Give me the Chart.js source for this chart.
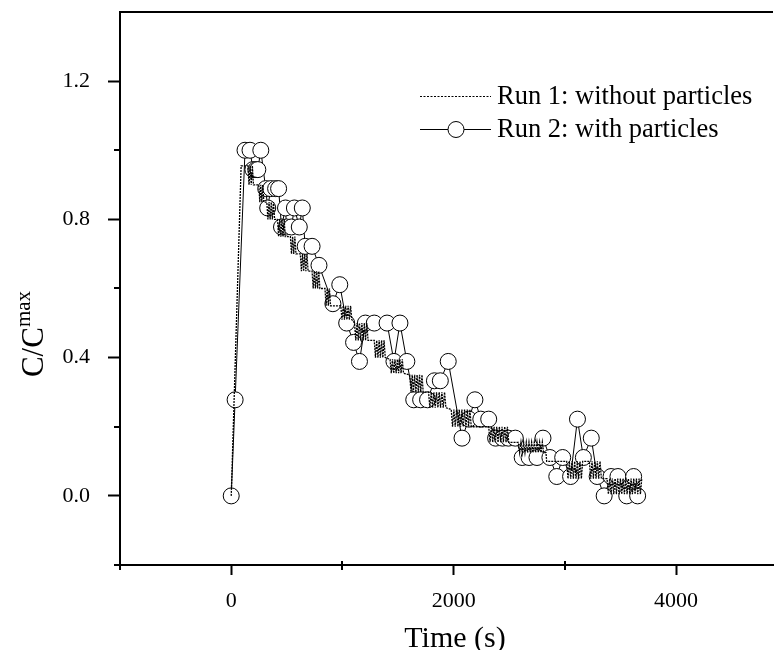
<!DOCTYPE html>
<html>
<head>
<meta charset="utf-8">
<script src="https://cdn.jsdelivr.net/npm/chart.js@4.4.1/dist/chart.umd.min.js"></script>
<style>
  html, body { margin: 0; padding: 0; background: #fff; overflow: hidden; }
  #myChart { display: block; }
</style>
</head>
<body>
<canvas id="myChart" width="782" height="650"></canvas>
<script>
// Run 1: without particles (dotted staircase, dense sampling)
var run1Time = [
    0, 89,
    150, 160, 170, 180, 190, 200,
    248, 257, 266, 275, 284, 293,
    320, 330, 340, 350, 360, 370, 380, 390,
    416, 426, 436, 446, 456, 466, 476, 486,
    532, 542, 552, 562, 572, 582,
    621, 631, 641, 651, 661, 671, 681, 691,
    727, 737, 747, 757, 767, 777, 787, 797,
    843, 853, 863, 873, 883, 893,
    985, 996, 1007, 1018, 1029, 1040, 1051, 1062, 1073, 1084,
    1109, 1120, 1131, 1142, 1153, 1164, 1175, 1186, 1197, 1208, 1219, 1230,
    1286, 1297, 1308, 1319, 1330, 1341, 1352, 1363, 1374, 1385,
    1428, 1439, 1450, 1461, 1472, 1483, 1494, 1505, 1516, 1527, 1538, 1549,
    1605, 1616, 1627, 1638, 1649, 1660, 1671, 1682, 1693, 1704, 1715, 1726,
    1774, 1786, 1798, 1810, 1822, 1834, 1846, 1858, 1870, 1882, 1894, 1906, 1918, 1930,
    1978, 1990, 2002, 2014, 2026, 2038, 2050, 2062, 2074, 2086, 2098, 2110, 2122, 2134, 2146, 2158,
    2315, 2327, 2339, 2351, 2363, 2375, 2387, 2399, 2411, 2423, 2435, 2447, 2459, 2471, 2483, 2495,
    2581, 2593, 2605, 2617, 2629, 2641, 2653, 2665, 2677, 2689, 2701, 2713, 2725, 2737, 2749, 2761, 2773, 2785, 2797, 2809,
    2830, 2836,
    3016, 3028, 3040, 3052, 3064, 3076, 3088, 3100, 3112, 3124, 3136, 3148, 3160,
    3220, 3232, 3244, 3256, 3268, 3280, 3292, 3304, 3316, 3328,
    3379, 3391, 3403, 3415, 3427, 3439, 3451, 3463, 3475, 3487, 3499, 3511, 3523, 3535,
    3547, 3559, 3571, 3583, 3595, 3607, 3619, 3631, 3643, 3655, 3667, 3679, 3691
];
var run1Value = [
    0, 0.955,
    0.955, 0.90, 0.955, 0.90, 0.955, 0.90,
    0.90, 0.85, 0.90, 0.85, 0.90, 0.85,
    0.85, 0.80, 0.85, 0.80, 0.85, 0.80, 0.85, 0.80,
    0.80, 0.75, 0.80, 0.75, 0.80, 0.75, 0.80, 0.75,
    0.75, 0.70, 0.75, 0.70, 0.75, 0.70,
    0.70, 0.65, 0.70, 0.65, 0.70, 0.65, 0.70, 0.65,
    0.65, 0.60, 0.65, 0.60, 0.65, 0.60, 0.65, 0.60,
    0.60, 0.55, 0.60, 0.55, 0.60, 0.55,
    0.55, 0.51, 0.55, 0.51, 0.55, 0.51, 0.55, 0.51, 0.55, 0.51,
    0.50, 0.45, 0.50, 0.45, 0.50, 0.45, 0.50, 0.45, 0.50, 0.45, 0.50, 0.45,
    0.45, 0.40, 0.45, 0.40, 0.45, 0.40, 0.45, 0.40, 0.45, 0.40,
    0.395, 0.355, 0.395, 0.355, 0.395, 0.355, 0.395, 0.355, 0.395, 0.355, 0.395, 0.355,
    0.35, 0.30, 0.35, 0.30, 0.35, 0.30, 0.35, 0.30, 0.35, 0.30, 0.35, 0.30,
    0.30, 0.255, 0.30, 0.255, 0.30, 0.255, 0.30, 0.255, 0.30, 0.255, 0.30, 0.255, 0.30, 0.255,
    0.25, 0.20, 0.25, 0.20, 0.25, 0.20, 0.25, 0.20, 0.25, 0.20, 0.25, 0.20, 0.25, 0.20, 0.25, 0.20,
    0.20, 0.155, 0.20, 0.155, 0.20, 0.155, 0.20, 0.155, 0.20, 0.155, 0.20, 0.155, 0.20, 0.155, 0.20, 0.155,
    0.155, 0.125, 0.155, 0.125, 0.155, 0.125, 0.155, 0.125, 0.155, 0.125, 0.155, 0.125, 0.155, 0.125, 0.155, 0.125, 0.155, 0.125, 0.155, 0.125,
    0.125, 0.10,
    0.10, 0.05, 0.10, 0.05, 0.10, 0.05, 0.10, 0.05, 0.10, 0.05, 0.10, 0.05, 0.10,
    0.10, 0.05, 0.10, 0.05, 0.10, 0.05, 0.10, 0.05, 0.10, 0.05,
    0.05, 0.005, 0.05, 0.005, 0.05, 0.005, 0.05, 0.005, 0.05, 0.005, 0.05, 0.005, 0.05, 0.005,
    0.05, 0.005, 0.05, 0.005, 0.05, 0.005, 0.05, 0.005, 0.05, 0.005, 0.05, 0.005, 0.05
];

// Run 2: with particles (open circles)
var run2Time = [
    0, 35, 124, 169, 195, 222, 239, 266, 310, 328, 355, 399, 426, 452, 488, 497, 541, 568, 612, 639,
    665, 727, 789, 914, 976, 1038, 1100, 1153, 1206, 1286, 1401, 1463, 1517, 1579, 1641, 1703, 1765, 1827, 1880, 1951,
    2075, 2137, 2191, 2244, 2315, 2377, 2439, 2492, 2554, 2616, 2678, 2749, 2803, 2865, 2927, 2980, 3051, 3113, 3166, 3237,
    3290, 3353, 3415, 3477, 3556, 3618, 3654
];
var run2Value = [
    0, 0.278, 1.0, 1.0, 0.944, 0.944, 0.944, 1.0, 0.889, 0.833, 0.889, 0.889, 0.889, 0.778, 0.833, 0.778, 0.778, 0.833, 0.778, 0.833,
    0.722, 0.722, 0.667, 0.556, 0.611, 0.5, 0.444, 0.389, 0.5, 0.5, 0.5, 0.389, 0.5, 0.389, 0.278, 0.278, 0.278, 0.333, 0.333, 0.389,
    0.167, 0.222, 0.278, 0.222, 0.222, 0.167, 0.167, 0.167, 0.167, 0.111, 0.111, 0.111, 0.167, 0.111, 0.056, 0.111, 0.056, 0.222, 0.111, 0.167,
    0.056, 0, 0.056, 0.056, 0, 0.056, 0
];

var seriesNames = ['Run 1: without particles', 'Run 2: with particles'];
var xLabelTicks = [0, 2000, 4000];
var xMinorTicks = [-1000, 1000, 3000];
var yLabelTicks = [0, 0.4, 0.8, 1.2];
var yMinorTicks = [-0.2, 0.2, 0.6, 1.0];

var serif = "'Liberation Serif', 'Times New Roman', serif";

function toPoints(t, v) {
    var out = [];
    for (var i = 0; i < t.length; i++) out.push({ x: t[i], y: v[i] });
    return out;
}

function noPad(s) {
    s.paddingTop = 0;
    s.paddingBottom = 0;
    s.paddingLeft = 0;
    s.paddingRight = 0;
}

var extras = {
    id: 'extras',
    afterDraw: function (chart) {
        var ctx = chart.ctx;
        var a = chart.chartArea;
        var xs = chart.scales.x, ys = chart.scales.y;
        ctx.save();
        ctx.strokeStyle = '#000';
        ctx.fillStyle = '#000';

        // top frame line
        ctx.lineWidth = 2;
        ctx.beginPath();
        ctx.moveTo(a.left - 1, a.top);
        ctx.lineTo(a.right, a.top);
        ctx.stroke();

        // minor ticks
        xMinorTicks.forEach(function (v) {
            var px = Math.round(xs.getPixelForValue(v));
            ctx.beginPath();
            ctx.moveTo(px, a.bottom - 4);
            ctx.lineTo(px, a.bottom + 5);
            ctx.stroke();
        });
        yMinorTicks.forEach(function (v) {
            var py = Math.round(ys.getPixelForValue(v));
            ctx.beginPath();
            ctx.moveTo(a.left - 6, py);
            ctx.lineTo(a.left, py);
            ctx.stroke();
        });

        // axis titles
        ctx.font = '30px ' + serif;
        ctx.textAlign = 'center';
        ctx.textBaseline = 'alphabetic';
        ctx.fillText('Time (s)', 455, 647);

        ctx.save();
        ctx.translate(43, 334);
        ctx.rotate(-Math.PI / 2);
        ctx.textAlign = 'left';
        ctx.font = '31px ' + serif;
        var w = ctx.measureText('C/C').width;
        ctx.font = '21px ' + serif;
        var w2 = ctx.measureText('max').width;
        var start = -(w + w2) / 2;
        ctx.font = '31px ' + serif;
        ctx.fillText('C/C', start, 0);
        ctx.font = '21px ' + serif;
        ctx.fillText('max', start + w, -13);
        ctx.restore();

        // legend
        ctx.lineWidth = 1;
        ctx.setLineDash([2, 1.5]);
        ctx.beginPath();
        ctx.moveTo(420, 96.5);
        ctx.lineTo(491, 96.5);
        ctx.stroke();
        ctx.setLineDash([]);
        ctx.beginPath();
        ctx.moveTo(420, 129.5);
        ctx.lineTo(491, 129.5);
        ctx.stroke();
        ctx.beginPath();
        ctx.arc(456, 129.5, 8, 0, Math.PI * 2);
        ctx.fillStyle = '#fff';
        ctx.fill();
        ctx.stroke();
        ctx.fillStyle = '#000';
        ctx.font = '26.5px ' + serif;
        ctx.textAlign = 'left';
        ctx.textBaseline = 'middle';
        ctx.fillText(seriesNames[0], 497, 97);
        ctx.fillText(seriesNames[1], 497, 130);
        ctx.restore();
    }
};

var myChart = new Chart(document.getElementById('myChart'), {
    type: 'line',
    data: {
        datasets: [{
            label: seriesNames[0],
            data: toPoints(run1Time, run1Value),
            borderColor: '#000',
            borderWidth: 1.3,
            borderDash: [2, 1],
            pointRadius: 0,
            fill: false,
            tension: 0
        }, {
            label: seriesNames[1],
            data: toPoints(run2Time, run2Value),
            borderColor: '#000',
            borderWidth: 1,
            pointRadius: 8,
            pointBorderWidth: 1,
            pointBackgroundColor: '#fff',
            pointBorderColor: '#000',
            fill: false,
            tension: 0
        }]
    },
    options: {
        responsive: false,
        animation: false,
        layout: { padding: { top: 12, left: 0, right: 0, bottom: 0 } },
        plugins: { legend: { display: false }, tooltip: { enabled: false } },
        scales: {
            x: {
                type: 'linear',
                min: -1000,
                max: 4871,
                afterBuildTicks: function (s) { s.ticks = xLabelTicks.map(function (v) { return { value: v }; }); },
                afterFit: function (s) { s.height = 85; noPad(s); },
                ticks: {
                    font: { family: serif, size: 22 },
                    color: '#000',
                    padding: 13,
                    maxRotation: 0,
                    autoSkip: false,
                    callback: function (v) { return String(v); }
                },
                grid: { display: true, drawOnChartArea: false, drawTicks: true, tickLength: 10, tickWidth: 2, tickColor: '#000' },
                border: { display: true, color: '#000', width: 2 }
            },
            y: {
                type: 'linear',
                min: -0.2,
                max: 1.4,
                afterBuildTicks: function (s) { s.ticks = yLabelTicks.map(function (v) { return { value: v }; }); },
                afterFit: function (s) { s.width = 120; noPad(s); },
                ticks: {
                    font: { family: serif, size: 22 },
                    color: '#000',
                    padding: 18,
                    autoSkip: false,
                    callback: function (v) { return v.toFixed(1); }
                },
                grid: { display: true, drawOnChartArea: false, drawTicks: true, tickLength: 12, tickWidth: 2, tickColor: '#000' },
                border: { display: true, color: '#000', width: 2 }
            }
        }
    },
    plugins: [extras]
});
</script>
</body>
</html>
